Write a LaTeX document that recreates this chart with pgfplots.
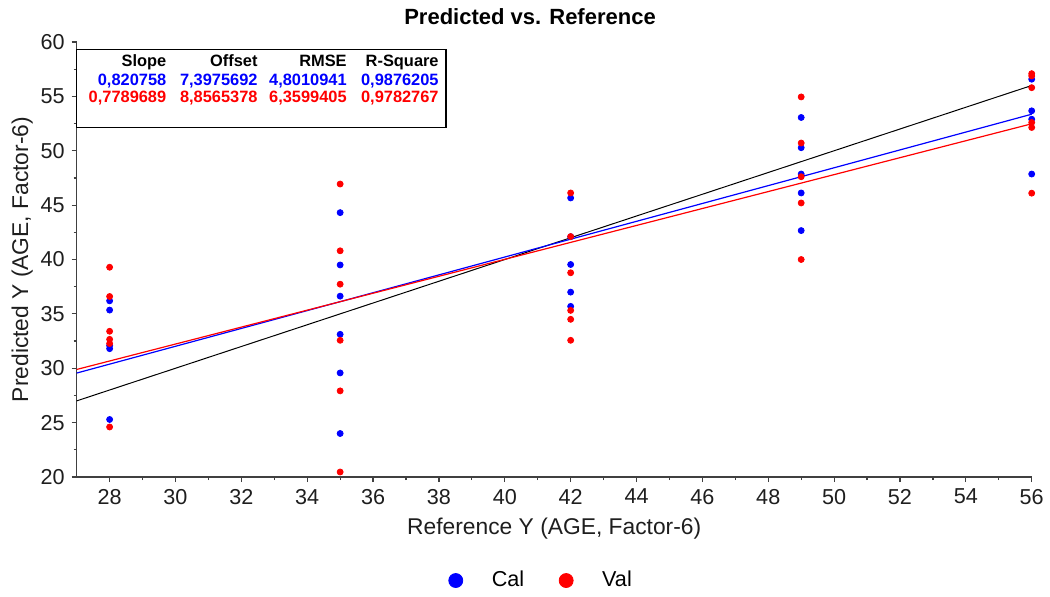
\documentclass[border=0pt]{standalone}
\usepackage{fontspec}
\setmainfont{Liberation Sans}
\usepackage{pgfplots}
\pgfplotsset{compat=1.18}
\definecolor{axgray}{RGB}{64,64,64}
\definecolor{txtgray}{RGB}{30,30,30}

\begin{document}
\begin{tikzpicture}
\useasboundingbox (-38.35pt,-59.5pt) rectangle (486.65pt,238.5pt);
\begin{axis}[
    at={(0pt,0pt)}, anchor=south west,
    scale only axis, width=477.5pt, height=217.5pt,
    xmin=27, xmax=56, ymin=20, ymax=60,
    xtick={28,30,...,56}, ytick={20,25,...,60},
    minor x tick num=1, minor y tick num=1,
    axis lines*=left,
    axis line style={axgray, line width=0.8pt},
    tick align=outside, major tick length=2.5pt, minor tick length=1.5pt,
    tick style={axgray, line width=0.6pt},
    ticklabel style={font=\fontsize{10.8}{12}\selectfont, text=txtgray},
    /pgf/number format/assume math mode=true,
    title={Predicted vs. Reference},
    title style={font=\bfseries\fontsize{11}{12}\selectfont, at={(rel axis cs:0.4747,1)}, anchor=center, yshift=6.5pt},
    xlabel={Reference Y (AGE, Factor-6)},
    ylabel={Predicted Y (AGE, Factor-6)},
    label style={font=\fontsize{11.4}{13}\selectfont, text=txtgray},
    ylabel style={yshift=-3pt},
    clip=false,
    legend style={at={(rel axis cs:0.487,-0.238)}, anchor=center, draw=none,
        legend columns=2, font=\fontsize{10.8}{12}\selectfont,
        /tikz/every even column/.append style={column sep=15pt}},
    legend image code/.code={
        \path[draw=none, fill=none] (0pt,0pt) -- (20pt,0pt);
        \draw[#1, mark size=3.5pt] plot coordinates {(4pt,0pt)};
    },
]

% target and regression lines
\addplot[black, line width=0.5pt, forget plot] coordinates {(27,27) (56,56)};
\addplot[blue, line width=0.6pt, forget plot] coordinates {(27,29.558) (56,53.360)};
\addplot[red, line width=0.6pt, forget plot] coordinates {(27,29.889) (56,52.479)};

% Cal
\addplot[only marks, mark=*, mark size=1.5pt, color=blue] coordinates {
(28,36.2) (28,35.35) (28,32.08) (28,31.8) (28,25.29)
(35,44.31) (35,39.5) (35,36.63) (35,33.12) (35,29.57) (35,24.0)
(42,45.66) (42,42.1) (42,39.54) (42,37.0) (42,35.69)
(49,53.06) (49,50.28) (49,47.86) (49,46.12) (49,42.66)
(56,56.58) (56,53.67) (56,52.9) (56,47.86)
};
% Val
\addplot[only marks, mark=*, mark size=1.5pt, color=red] coordinates {
(28,39.29) (28,36.6) (28,33.4) (28,32.66) (28,32.27) (28,24.6)
(35,46.94) (35,40.8) (35,37.73) (35,32.57) (35,27.92) (35,20.46)
(42,46.12) (42,42.11) (42,38.78) (42,35.32) (42,34.5) (42,32.57)
(49,54.95) (49,50.71) (49,47.61) (49,45.2) (49,40.0)
(56,57.09) (56,56.88) (56,55.8) (56,52.6) (56,52.14) (56,46.1)
};
\legend{Cal, Val}

% statistics box
\draw[black, line width=0.6pt, fill=white] (rel axis cs:0,0.8039) rectangle (rel axis cs:0.3867,0.9832);
\begin{scope}[every node/.style={anchor=base east, inner sep=0pt, font=\bfseries\fontsize{8.2}{9}\selectfont}]
\node[black] at (rel axis cs:0.0942,0.9448) {Slope};
\node[black] at (rel axis cs:0.1898,0.9448) {Offset};
\node[black] at (rel axis cs:0.2831,0.9448) {RMSE};
\node[black] at (rel axis cs:0.3794,0.9448) {R-Square};
\node[blue] at (rel axis cs:0.0942,0.9011) {0,820758};
\node[blue] at (rel axis cs:0.1898,0.9011) {7,3975692};
\node[blue] at (rel axis cs:0.2831,0.9011) {4,8010941};
\node[blue] at (rel axis cs:0.3794,0.9011) {0,9876205};
\node[red] at (rel axis cs:0.0942,0.8598) {0,7789689};
\node[red] at (rel axis cs:0.1898,0.8598) {8,8565378};
\node[red] at (rel axis cs:0.2831,0.8598) {6,3599405};
\node[red] at (rel axis cs:0.3794,0.8598) {0,9782767};
\end{scope}
\end{axis}
\end{tikzpicture}
\end{document}
